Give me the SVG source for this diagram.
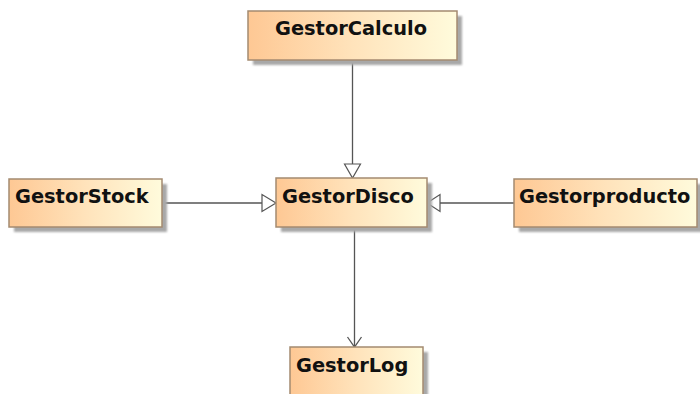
<svg xmlns="http://www.w3.org/2000/svg" width="700" height="394" viewBox="0 0 700 394">
<style>
  .shadow { fill: #a8a8a8; filter: url(#blur); }
  .box { fill: url(#grad); stroke: #a48a70; stroke-width: 1.5; }
  .label { font-family: "DejaVu Sans", Verdana, sans-serif; font-weight: bold; font-size: 19.4px; fill: #111; }
  .conn { stroke: #555; stroke-width: 1.3; fill: none; }
  .tri { stroke: #555; stroke-width: 1.2; fill: #fff; }
</style>
<defs>
  <linearGradient id="grad" x1="0" y1="0" x2="1" y2="0">
    <stop offset="0" stop-color="#fec894"/>
    <stop offset="0.5" stop-color="#ffe3bb"/>
    <stop offset="1" stop-color="#fffbdc"/>
  </linearGradient>
  <filter id="blur" x="-10%" y="-10%" width="120%" height="120%">
    <feGaussianBlur stdDeviation="1"/>
  </filter>
</defs>
<rect width="700" height="394" fill="#fff"/>
<g id="connectors">
  <line class="conn" x1="352.5" y1="60" x2="352.5" y2="164"/>
  <polygon class="tri" points="344.5,164 360.5,164 352.5,178"/>
  <line class="conn" x1="162" y1="203" x2="262" y2="203"/>
  <polygon class="tri" points="262,194.5 262,211.5 276,203"/>
  <line class="conn" x1="514" y1="203" x2="440" y2="203"/>
  <polygon class="tri" points="440,194.5 440,211.5 427,203"/>
  <line class="conn" x1="354.5" y1="227" x2="354.5" y2="347"/>
  <polyline class="conn" points="347.5,337 354.5,347 361.5,337"/>
</g>
<g id="GestorCalculo">
  <rect class="shadow" x="253" y="16" width="209" height="49"/>
  <rect class="box" x="248" y="11" width="209" height="49"/>
  <text class="label" x="275" y="35">GestorCalculo</text>
</g>
<g id="GestorStock">
  <rect class="shadow" x="14" y="184" width="153" height="48"/>
  <rect class="box" x="9" y="179" width="153" height="48"/>
  <text class="label" x="15" y="203">GestorStock</text>
</g>
<g id="GestorDisco">
  <rect class="shadow" x="281" y="183" width="151" height="49"/>
  <rect class="box" x="276" y="178" width="151" height="49"/>
  <text class="label" x="282" y="203">GestorDisco</text>
</g>
<g id="Gestorproducto">
  <rect class="shadow" x="519" y="184" width="183" height="48"/>
  <rect class="box" x="514" y="179" width="183" height="48"/>
  <text class="label" x="519" y="202.5">Gestorproducto</text>
</g>
<g id="GestorLog">
  <rect class="shadow" x="295" y="352" width="133" height="60"/>
  <rect class="box" x="290" y="347" width="133" height="60"/>
  <text class="label" x="296" y="372">GestorLog</text>
</g>
</svg>
